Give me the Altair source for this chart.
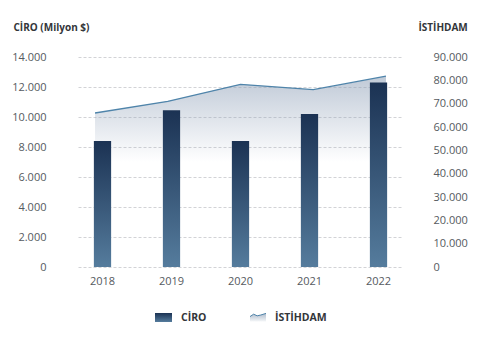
import altair as alt
import pandas as pd

years = ["2018", "2019", "2020", "2021", "2022"]
ciro = [8400, 10450, 8400, 10200, 12300]
istihdam = [66000, 71000, 78300, 76000, 81800]

left_ticks = [0, 2000, 4000, 6000, 8000, 10000, 12000, 14000]
right_ticks = [0, 10000, 20000, 30000, 40000, 50000, 60000, 70000, 80000, 90000]

ciro_label = "CİRO"
ist_label = "İSTİHDAM"
left_title = "CİRO (Milyon $)"

df = pd.DataFrame({"year": years, "ciro": ciro, "istihdam": istihdam})

FONT = "Open Sans"
LABEL_COLOR = "#555a60"
TITLE_COLOR = "#33363a"
label_expr = "replace(format(datum.value, ','), ',', '.')"

bar_grad = alt.Gradient(
    gradient="linear",
    stops=[alt.GradientStop(color="#1b3253", offset=0),
           alt.GradientStop(color="#557c9d", offset=1)],
    x1=0, x2=0, y1=0, y2=1,
)
area_grad = alt.Gradient(
    gradient="linear",
    stops=[alt.GradientStop(color="rgba(140,158,182,0.55)", offset=0),
           alt.GradientStop(color="rgba(140,158,182,0.0)", offset=0.45)],
    x1=0, x2=0, y1=0, y2=1,
)

base = alt.Chart(df)

x_point = alt.X("year:N", sort=years, axis=None,
                scale=alt.Scale(type="point", padding=0.234))
y_right_scale = alt.Scale(domain=[0, 90000], nice=False)

area = base.mark_area(fill=area_grad).encode(
    x=x_point,
    y=alt.Y("istihdam:Q", scale=y_right_scale,
            axis=alt.Axis(orient="right", values=right_ticks, labelExpr=label_expr,
                          grid=False, domain=False, ticks=False, tickSize=0,
                          labelPadding=30, labelAlign="left",
                          labelFont=FONT, labelFontSize=11, labelColor=LABEL_COLOR,
                          title=ist_label, titleAngle=0, titleX=15, titleY=-27,
                          titleAlign="left", titleBaseline="alphabetic",
                          titleFont=FONT, titleFontSize=10, titleFontWeight="bold",
                          titleColor=TITLE_COLOR)),
)

line = base.mark_line(color="#4f84aa", strokeWidth=1.3).encode(
    x=x_point,
    y=alt.Y("istihdam:Q", scale=y_right_scale, axis=None),
)

bars = base.mark_bar(fill=bar_grad).encode(
    x=alt.X("year:N", sort=years,
            scale=alt.Scale(paddingInner=0.75, paddingOuter=0.23),
            axis=alt.Axis(title=None, labelAngle=0, domain=False, ticks=False, tickSize=0,
                          labelPadding=8, labelFont=FONT, labelFontSize=11,
                          labelColor=LABEL_COLOR, grid=False)),
    y=alt.Y("ciro:Q", scale=alt.Scale(domain=[0, 14000], nice=False),
            axis=alt.Axis(orient="left", values=left_ticks, labelExpr=label_expr,
                          grid=True, gridDash=[3, 2], gridColor="#d2d3d6", gridWidth=1,
                          domain=False, ticks=False, tickSize=0, labelPadding=32,
                          labelFont=FONT, labelFontSize=11, labelColor=LABEL_COLOR,
                          title=left_title, titleAngle=0, titleX=-65, titleY=-27,
                          titleAlign="left", titleBaseline="alphabetic",
                          titleFont=FONT, titleFontSize=10, titleFontWeight="bold",
                          titleColor=TITLE_COLOR)),
)

leg_df1 = pd.DataFrame({"t": [ciro_label]})
leg_df2 = pd.DataFrame({"t": [ist_label]})

leg_rect = alt.Chart(leg_df1).mark_rect(fill=bar_grad).encode(
    x=alt.value(77), x2=alt.value(94), y=alt.value(256), y2=alt.value(265))
leg_text1 = alt.Chart(leg_df1).mark_text(
    align="left", baseline="middle", font=FONT, fontSize=10.5, fontWeight="bold",
    color=TITLE_COLOR).encode(x=alt.value(103), y=alt.value(261), text="t:N")

leg_sym_fill = alt.Chart(leg_df2).mark_point(
    shape="M-1,-0.05 L-0.55,-0.35 L-0.1,-0.15 L0.35,-0.25 L1,-0.45 L1,0.55 L-1,0.55 Z",
    filled=True, size=256, opacity=1,
    fill=alt.Gradient(gradient="linear",
                      stops=[alt.GradientStop(color="#aebbcb", offset=0),
                             alt.GradientStop(color="#f4f6f8", offset=1)],
                      x1=0, x2=0, y1=0, y2=1),
    strokeWidth=0).encode(x=alt.value(180), y=alt.value(260))
leg_sym_line = alt.Chart(leg_df2).mark_point(
    shape="M-1,-0.05 L-0.55,-0.35 L-0.1,-0.15 L0.35,-0.25 L1,-0.45",
    filled=False, size=256, opacity=1, stroke="#4f84aa", strokeWidth=1,
).encode(x=alt.value(180), y=alt.value(260))
leg_text2 = alt.Chart(leg_df2).mark_text(
    align="left", baseline="middle", font=FONT, fontSize=10.5, fontWeight="bold",
    color=TITLE_COLOR).encode(x=alt.value(197), y=alt.value(261), text="t:N")

chart = alt.layer(
    area, line, bars, leg_rect, leg_text1, leg_sym_fill, leg_sym_line, leg_text2
).resolve_scale(
    x="independent", y="independent"
).properties(
    width=325, height=210,
    padding={"left": 78, "top": 57, "right": 82, "bottom": 79},
    autosize=alt.AutoSizeParams(type="none"),
    background="white",
).configure_view(stroke=None)

chart.save("out.html", embed_options={"renderer": "svg", "actions": False})
